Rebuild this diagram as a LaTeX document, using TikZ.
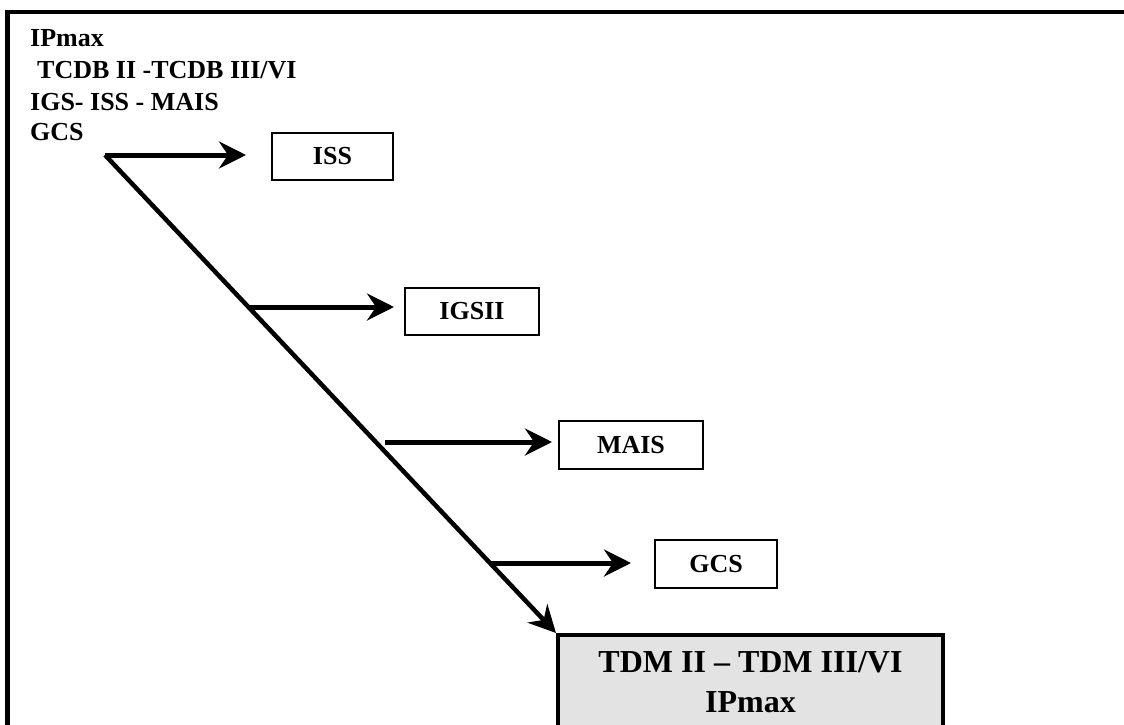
\documentclass[tikz,border=0pt]{standalone}
\usepackage{fontspec}
\setmainfont{Liberation Serif}
\usetikzlibrary{arrows.meta}
\definecolor{tdmgray}{RGB}{227,227,227}

\begin{document}
\begin{tikzpicture}[x=1pt,y=-1pt,
	box/.style={shape=rectangle,draw=black,line width=2pt,inner sep=0pt,
		font=\bfseries\fontsize{26}{30}\selectfont},
	hdr/.style={anchor=base west,inner sep=0pt,font=\bfseries\fontsize{26}{31}\selectfont},
	arr/.style={line width=5pt,-{Stealth[length=27pt,width=27pt,inset=9pt]}}]
	
	\useasboundingbox (0,0) rectangle (1124,725);
	\clip (0,0) rectangle (1124,725);
	
	% frame, open to the right and below
	\draw[line width=4.5pt] (1130,12) -- (7.5,12) -- (7.5,735);
	
	\node[hdr] (h1) at (30,47)  {IPmax};
	\node[hdr] (h2) at (37,78)  {TCDB II -TCDB III/VI};
	\node[hdr] (h3) at (30,110) {IGS- ISS - MAIS};
	\node[hdr] (h4) at (30,140) {GCS};
	
	\node[box,minimum width=121pt,minimum height=47pt] (iss)   at (332.5,156.5) {ISS};
	\node[box,minimum width=134pt,minimum height=47pt] (igsii) at (472,311.5)   {IGSII};
	\node[box,minimum width=144pt,minimum height=48pt] (mais)  at (631,445)     {MAIS};
	\node[box,minimum width=122pt,minimum height=48pt] (gcs)   at (716,564)     {GCS};
	
	\node[box,fill=tdmgray,line width=4pt,align=center,minimum width=385pt,minimum height=94pt,
		font=\bfseries\fontsize{32}{40}\selectfont] (tdm) at (750.5,682) {TDM II -- TDM III/VI\\IPmax};
	
	\coordinate (start) at (105,155);
	\coordinate (b2) at (250,307);
	\coordinate (b3) at (385,442);
	\coordinate (b4) at (490,563);
	
	\draw[arr] (start) -- ([xshift=-25pt]start -| iss.west);
	\draw[arr] (b2) -- ([xshift=-10pt]b2 -| igsii.west);
	\draw[arr] (b3) -- ([xshift=-6pt]b3 -| mais.west);
	\draw[arr] (b4) -- ([xshift=-23pt]b4 -| gcs.west);
	
	\draw[arr,line width=4.5pt] (start) -- (tdm.north west);
	
\end{tikzpicture}
\end{document}
